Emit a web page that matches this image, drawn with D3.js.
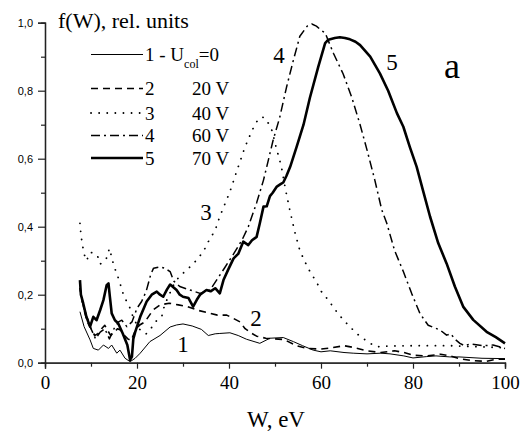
<!DOCTYPE html>
<html>
<head>
<meta charset="utf-8">
<script src="https://cdn.jsdelivr.net/npm/d3@7"></script>
<style>
  body { margin: 0; background: #fff; }
  svg { display: block; }
  .serif { font-family: "Liberation Serif", "DejaVu Serif", serif; fill: #000; }
</style>
</head>
<body>
<script>
// spectra f(W), [W (eV), f (rel. units)]
const curve1 = [[7.6,0.15],[8.5,0.106],[9.8,0.067],[10.5,0.042],[11.6,0.037],[12.7,0.052],[13.8,0.042],[14.5,0.052],[15.6,0.028],[16.3,0.037],[17.4,0.013],[18.5,0.003],[19.6,0.013],[20.7,0.028],[22.8,0.062],[25,0.08],[27.2,0.105],[28.6,0.111],[30,0.114],[32,0.108],[34,0.098],[35.5,0.08],[37,0.085],[38,0.086],[40.2,0.088],[42,0.08],[43.8,0.069],[46.7,0.057],[48.9,0.072],[51.8,0.074],[54,0.062],[56,0.05],[58.3,0.037],[60,0.032],[62,0.035],[65,0.03],[67,0.028],[70,0.026],[73,0.028],[75,0.026],[78,0.02],[80,0.014],[83,0.018],[85,0.02],[88,0.017],[90,0.017],[95,0.013],[100,0.012]];
const curve2 = [[7.6,0.22],[8,0.19],[8.6,0.15],[9.2,0.12],[10,0.1],[10.8,0.08],[11.5,0.085],[12.3,0.1],[13,0.11],[13.6,0.095],[14.3,0.08],[15,0.09],[15.8,0.1],[16.5,0.095],[17.3,0.08],[18,0.07],[18.7,0.065],[19.5,0.09],[20.5,0.11],[21.7,0.12],[23.5,0.155],[25,0.17],[27,0.175],[29,0.17],[31,0.165],[33,0.155],[35.9,0.145],[37.5,0.14],[39.5,0.14],[41,0.13],[42.4,0.12],[43.5,0.1],[45,0.086],[46,0.078],[48,0.072],[50,0.07],[52,0.068],[54.7,0.05],[57,0.042],[60,0.04],[62,0.043],[65,0.05],[67,0.045],[70,0.035],[73,0.03],[76,0.035],[78,0.03],[80,0.022],[83,0.02],[86,0.025],[88,0.02],[90,0.012],[93,0.006],[96,0.004],[98,0.01],[100,0.01]];
const curve3 = [[7.6,0.41],[7.8,0.378],[8.1,0.35],[8.5,0.32],[9,0.3],[9.9,0.325],[10.9,0.32],[11.4,0.315],[12,0.29],[13.3,0.305],[14,0.336],[14.5,0.31],[15,0.284],[15.8,0.255],[16.5,0.225],[17.2,0.194],[18.3,0.167],[19,0.14],[20,0.11],[21,0.09],[22,0.085],[23,0.1],[24,0.12],[25.4,0.137],[26,0.17],[27,0.2],[28,0.23],[29,0.25],[30.4,0.268],[32.2,0.29],[34.4,0.326],[35.5,0.356],[37,0.39],[38,0.43],[40.2,0.503],[42,0.576],[43.5,0.635],[44.6,0.67],[45.6,0.7],[46.6,0.72],[47.5,0.722],[48.2,0.714],[49.3,0.684],[50.4,0.626],[51.4,0.576],[52.3,0.508],[53.3,0.444],[54.3,0.385],[55.4,0.33],[56.5,0.297],[57.6,0.268],[59,0.238],[60.1,0.209],[61.6,0.184],[63.4,0.15],[64.9,0.125],[66.7,0.1],[68.5,0.077],[70.7,0.057],[72,0.047],[75,0.049],[80,0.05],[85,0.05],[88,0.05],[92,0.048],[96,0.046],[100,0.044]];
const curve4 = [[7.6,0.22],[8.2,0.17],[9,0.14],[10,0.1],[11,0.07],[12,0.09],[13,0.1],[14,0.07],[15,0.1],[16,0.12],[16.7,0.125],[17.8,0.106],[18.9,0.12],[20,0.16],[21,0.18],[22,0.21],[23,0.26],[23.6,0.278],[25,0.282],[26,0.278],[27.2,0.268],[28,0.24],[29.3,0.224],[31.5,0.214],[33.7,0.204],[35.9,0.214],[37.3,0.243],[39.1,0.28],[41,0.32],[42.8,0.36],[44.2,0.4],[46,0.47],[47.5,0.537],[48.2,0.576],[49.6,0.655],[51,0.72],[52.5,0.81],[54,0.89],[55.4,0.96],[57,0.99],[58,0.996],[59,0.99],[60,0.978],[60.9,0.97],[62.7,0.91],[64.8,0.85],[66.7,0.78],[68.5,0.7],[70,0.626],[71.7,0.537],[73.2,0.45],[74.3,0.41],[76,0.33],[77.9,0.268],[79.7,0.204],[81.5,0.145],[83.3,0.11],[85.9,0.096],[87.3,0.081],[88.2,0.085],[89.2,0.068],[90.2,0.057],[91.2,0.05],[92.4,0.055],[95.3,0.05],[97.4,0.052],[100,0.042]];
const curve5 = [[7.6,0.243],[7.8,0.2],[8.3,0.175],[9,0.135],[9.8,0.106],[10.5,0.135],[11.2,0.125],[12,0.155],[12.7,0.184],[13.4,0.228],[13.8,0.233],[14.1,0.194],[14.5,0.145],[15.2,0.125],[15.9,0.116],[16.9,0.086],[17.9,0.052],[18.5,0.008],[18.9,0.018],[19.2,0.07],[19.6,0.09],[20.7,0.135],[22.1,0.18],[23.2,0.2],[24.3,0.209],[25,0.2],[25.7,0.194],[26.5,0.215],[27.2,0.23],[28.6,0.214],[29.3,0.2],[30,0.194],[31.2,0.19],[32.2,0.165],[33,0.185],[33.7,0.2],[35.1,0.214],[36,0.21],[37,0.219],[38,0.204],[38.8,0.243],[39.8,0.273],[41,0.307],[42,0.32],[43.1,0.356],[44.2,0.346],[45,0.36],[46,0.37],[46.7,0.41],[47.5,0.459],[48.2,0.46],[48.9,0.49],[49.5,0.5],[50.4,0.518],[51.2,0.525],[51.8,0.53],[52.5,0.55],[53.3,0.576],[54.7,0.635],[56.2,0.7],[57.6,0.78],[59.4,0.87],[60.9,0.94],[61.6,0.95],[63,0.955],[64.1,0.957],[65.2,0.955],[66.3,0.951],[67.5,0.944],[68.5,0.934],[70.7,0.9],[72.8,0.851],[74.6,0.8],[76.5,0.734],[77.9,0.694],[79.3,0.635],[80.8,0.576],[82.3,0.5],[83.7,0.43],[85.5,0.351],[87.3,0.292],[89.1,0.224],[90.9,0.165],[93.1,0.126],[96,0.091],[98,0.075],[100,0.057]];

const xMajor = [0, 20, 40, 60, 80, 100];
const xMinor = [10, 30, 50, 70, 90];
const yMajor = [0, 0.2, 0.4, 0.6, 0.8, 1.0];
const yMinor = [0.1, 0.3, 0.5, 0.7, 0.9];
const legendNums = ["2", "3", "4", "5"];
const legendVolts = ["20 V", "40 V", "60 V", "70 V"];

const width = 527, height = 435;

const x = d3.scaleLinear().domain([0, 100]).range([45, 505]);
const y = d3.scaleLinear().domain([0, 1]).range([362.7, 22.7]);

const svg = d3.select("body").append("svg")
    .attr("width", width)
    .attr("height", height);

// line styles for curves 1..5
const styles = [
    {w: 1,   dash: null},
    {w: 1.6, dash: "7,5"},
    {w: 1.8, dash: "0.1,8"},
    {w: 1.5, dash: "9,4,2,4"},
    {w: 2.6, dash: null}
];

const line = d3.line()
    .x(function(d) { return x(d[0]); })
    .y(function(d) { return y(d[1]); })
    .curve(d3.curveLinear);

// axes
const xAxis = d3.axisBottom(x).tickValues(xMajor).tickSize(6).tickFormat(d3.format("d"));
const xAxisMinor = d3.axisBottom(x).tickValues(xMinor).tickSize(4).tickFormat("");
const yAxis = d3.axisLeft(y).tickValues(yMajor).tickSize(7)
    .tickFormat(function(d) { return d3.format(".1f")(d).replace(".", ","); });
const yAxisMinor = d3.axisLeft(y).tickValues(yMinor).tickSize(4).tickFormat("");

const gx = svg.append("g").attr("transform", "translate(0," + y(0) + ")").call(xAxis);
gx.append("g").call(xAxisMinor);
gx.selectAll("text")
    .attr("class", "serif")
    .attr("font-size", 19)
    .attr("dy", "0.9em")
    .attr("fill", "#000");

const gy = svg.append("g").attr("transform", "translate(" + x(0) + ",0)").call(yAxis);
gy.append("g").call(yAxisMinor);
gy.selectAll("text")
    .attr("font-family", "'Liberation Sans', Arial, sans-serif")
    .attr("font-size", 11)
    .attr("x", -12)
    .attr("fill", "#000");

svg.selectAll(".domain").attr("stroke", "#222").attr("stroke-width", 1.3);
svg.selectAll(".tick line").attr("stroke", "#222").attr("stroke-width", 1.2);

// curves
const curves = [curve1, curve2, curve3, curve4, curve5];
svg.append("g").selectAll("path")
    .data(curves)
    .enter()
    .append("path")
    .attr("d", line)
    .attr("fill", "none")
    .attr("stroke", "#000")
    .attr("stroke-linejoin", "round")
    .attr("stroke-linecap", function(d, i) { return i == 2 ? "round" : "butt"; })
    .attr("stroke-width", function(d, i) { return styles[i].w; })
    .attr("stroke-dasharray", function(d, i) { return styles[i].dash; });

// title
svg.append("text").attr("class", "serif")
    .attr("x", 58).attr("y", 28)
    .attr("font-size", 22)
    .text("f(W), rel. units");

// legend
const lx0 = 91, lx1 = 143;
svg.append("line")
    .attr("x1", lx0).attr("x2", lx1).attr("y1", 54.5).attr("y2", 54.5)
    .attr("stroke", "#000").attr("stroke-width", styles[0].w);
const t1 = svg.append("text").attr("class", "serif")
    .attr("x", 145).attr("y", 61).attr("font-size", 19);
t1.append("tspan").text("1 - U");
t1.append("tspan").attr("font-size", 12).attr("dy", 7).text("col");
t1.append("tspan").attr("dy", -7).text("=0");

const legendY = [88.5, 113, 135.5, 158];
legendNums.forEach(function(n, i) {
    const s = styles[i + 1];
    svg.append("line")
        .attr("x1", lx0).attr("x2", lx1).attr("y1", legendY[i]).attr("y2", legendY[i])
        .attr("stroke", "#000")
        .attr("stroke-width", s.w)
        .attr("stroke-linecap", i == 1 ? "round" : "butt")
        .attr("stroke-dasharray", s.dash);
    svg.append("text").attr("class", "serif")
        .attr("x", 145).attr("y", legendY[i] + 6.5).attr("font-size", 19).text(n);
    svg.append("text").attr("class", "serif")
        .attr("x", 192).attr("y", legendY[i] + 6.5).attr("font-size", 19).text(legendVolts[i]);
});

// curve numbers
const curveLabels = [
    {t: "1", x: 183, y: 352},
    {t: "2", x: 256, y: 326},
    {t: "3", x: 206, y: 220},
    {t: "4", x: 279, y: 63},
    {t: "5", x: 392, y: 70}
];
svg.append("g").selectAll("text")
    .data(curveLabels)
    .enter()
    .append("text")
    .attr("class", "serif")
    .attr("x", function(d) { return d.x; })
    .attr("y", function(d) { return d.y; })
    .attr("text-anchor", "middle")
    .attr("font-size", 23)
    .text(function(d) { return d.t; });

svg.append("text").attr("class", "serif")
    .attr("x", 452).attr("y", 78)
    .attr("text-anchor", "middle")
    .attr("font-size", 36)
    .text("a");

// x axis title
svg.append("text").attr("class", "serif")
    .attr("x", 276).attr("y", 427)
    .attr("text-anchor", "middle")
    .attr("font-size", 23)
    .text("W, eV");
</script>
</body>
</html>
